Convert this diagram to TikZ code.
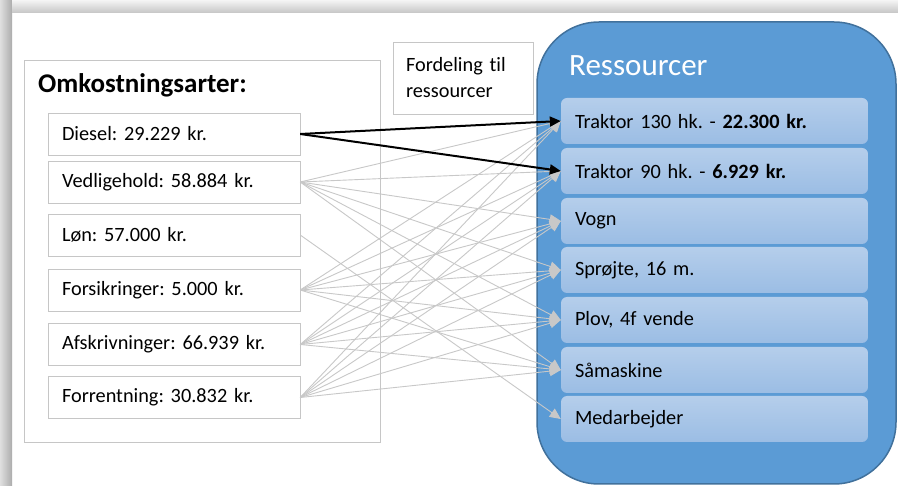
\documentclass[tikz,border=0pt]{standalone}
\usepackage{fontspec}
\setmainfont{Carlito}[Ligatures=NoCommon]
\usetikzlibrary{positioning,arrows.meta,backgrounds}
\frenchspacing

\definecolor{ResBlue}{HTML}{5B9BD5}
\definecolor{ResEdge}{HTML}{41719C}
\definecolor{ItemTop}{HTML}{B5CEEB}
\definecolor{ItemBot}{HTML}{9BBDE4}
\definecolor{LineGray}{HTML}{C8C8C8}
\definecolor{BoxGray}{HTML}{C6C6C6}

\begin{document}
\begin{tikzpicture}[
  x=1pt,y=-1pt,
  on grid,
  >={Triangle[length=11pt,width=10pt]},
  cost/.style={draw=BoxGray,fill=white,minimum width=252pt,minimum height=42pt,
    text width=224pt,inner xsep=14pt,inner ysep=0pt,align=left,
    font=\fontsize{20.3}{24}\selectfont},
  resource/.style={rounded corners=6pt,top color=ItemTop,bottom color=ItemBot,
    minimum width=307pt,minimum height=46pt,text width=279pt,inner xsep=14pt,
    inner ysep=0pt,align=left,font=\fontsize{20.3}{24}\selectfont},
  frame/.style={draw=BoxGray,line width=1pt},
  spread/.style={->,LineGray,line width=0.9pt},
  main/.style={->,black,line width=2pt}
  ]

  \useasboundingbox (0,0) rectangle (898,486);

  % page shadow
  \fill[white] (0,0) rectangle (898,486);
  \shade[left color=gray!25,right color=gray!65] (0,0) rectangle (12,486);
  \shade[top color=gray!8,bottom color=gray!45] (12,0) rectangle (898,13);

  % frames
  \node[frame,minimum width=356pt,minimum height=382pt] (omk) at (202,252) {};
  \node[draw=ResEdge,fill=ResBlue,line width=1.5pt,rounded corners=62pt,
    minimum width=359pt,minimum height=462pt] (res) at (716.5,253) {};

  \node[anchor=west,inner sep=0pt,font=\fontsize{27}{30}\selectfont\bfseries]
    (omktitle) at (38,85) {Omkostningsarter:};
  \node[anchor=west,inner sep=0pt,text=white,font=\fontsize{31}{34}\selectfont]
    (restitle) at (569,66) {Ressourcer};
  \node[frame,line width=0.8pt,minimum width=140pt,minimum height=72pt,
    text width=114pt,inner xsep=13pt,align=left,
    font=\fontsize{20.3}{26}\selectfont] (fordeling) at (463,78)
    {Fordeling til\\ressourcer};

  % cost types
  \node[cost] (diesel) at (174,134)           {Diesel: 29.229 kr.};
  \node[cost] (vedl)   [below=48pt of diesel] {Vedligehold: 58.884 kr.};
  \node[cost] (loen)   [below=53pt of vedl]   {Løn: 57.000 kr.};
  \node[cost] (fors)   [below=55pt of loen]   {Forsikringer: 5.000 kr.};
  \node[cost] (afskr)  [below=54.5pt of fors] {Afskrivninger: 66.939 kr.};
  \node[cost] (forr)   [below=53pt of afskr]  {Forrentning: 30.832 kr.};

  % resources
  \node[resource] (trak130)  at (714.5,121)           {Traktor 130 hk. - \textbf{22.300 kr.}};
  \node[resource] (trak90)   [below=50pt of trak130]  {Traktor 90 hk. - \textbf{6.929 kr.}};
  \node[resource] (vogn)     [below=50pt of trak90]   {Vogn};
  \node[resource] (sproejte) [below=49pt of vogn]     {Sprøjte, 16 m.};
  \node[resource] (plov)     [below=50pt of sproejte] {Plov, 4f vende};
  \node[resource] (saamask)  [below=50pt of plov]     {Såmaskine};
  \node[resource] (medarb)   [below=49pt of saamask]  {Medarbejder};

  \path[spread]
    (vedl.east)  edge (trak130.west) edge (trak90.west) edge (vogn.west)
                 edge (sproejte.west) edge (plov.west) edge (saamask.west)
    (loen.east)  edge (medarb.west)
    (fors.east)  edge (trak130.west) edge (trak90.west) edge (vogn.west)
                 edge (sproejte.west) edge (plov.west) edge (saamask.west)
    (afskr.east) edge (trak130.west) edge (trak90.west) edge (vogn.west)
                 edge (sproejte.west) edge (plov.west) edge (saamask.west)
    (forr.east)  edge (trak130.west) edge (trak90.west) edge (vogn.west)
                 edge (sproejte.west) edge (plov.west) edge (saamask.west)
    ;

  \path[main]
    (diesel.east) edge (trak130.west) edge (trak90.west)
    ;
\end{tikzpicture}
\end{document}
